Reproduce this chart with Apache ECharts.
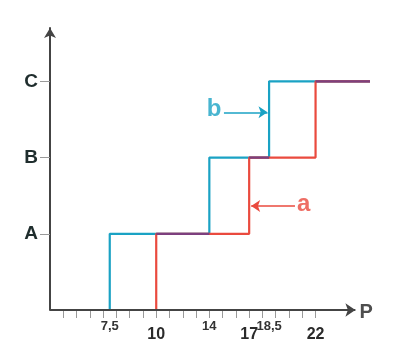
<!DOCTYPE html>
<html>
<head>
<meta charset="utf-8">
<script src="https://cdn.jsdelivr.net/npm/echarts@6/dist/echarts.min.js"></script>
<style>
html,body{margin:0;padding:0;background:#fff;}
#c{width:403px;height:358px;}
</style>
</head>
<body>
<div id="c"></div>
<script>
// ---- data ----
const yLevels = [1, 2, 3];
const yLabels = ['A', 'B', 'C'];
const bBreaks = [6.5, 14, 18.5];   // step positions of curve b (drawn position of "7,5")
const aBreaks = [10, 17, 22];      // step positions of curve a
const lineEnd = 26.1;
const xAxisEnd = 25;
const xSmallValues = [6.5, 14, 18.5];
const xSmallLabels = ['7,5', '14', '18,5'];
const xBigValues = [10, 17, 22];
const xBigLabels = ['10', '17', '22'];
const xMinorTicks = [3, 4, 5, 6, 7, 8, 9, 10, 11, 12, 13, 14, 15, 16, 17, 18, 19, 20, 21, 22];

const BLUE = '#1aa2c4';
const RED = '#ea4a3e';
const PURPLE = '#7d3f7e';
const AXIS = '#444';
const FONT = '"Liberation Sans", Arial, sans-serif';

function stepPoints(breaks) {
  const pts = [[breaks[0], 0]];
  for (let i = 0; i < breaks.length; i++) {
    pts.push([breaks[i], yLevels[i]]);
    const next = i + 1 < breaks.length ? breaks[i + 1] : lineEnd;
    pts.push([next, yLevels[i]]);
  }
  return pts;
}
function overlapSegments() {
  const segs = [];
  for (let i = 0; i < yLevels.length; i++) {
    const aEnd = i + 1 < aBreaks.length ? aBreaks[i + 1] : lineEnd;
    const bEnd = i + 1 < bBreaks.length ? bBreaks[i + 1] : lineEnd;
    const s = Math.max(aBreaks[i], bBreaks[i]);
    const e = Math.min(aEnd, bEnd);
    if (e > s) segs.push([[s, yLevels[i]], [e, yLevels[i]]]);
  }
  return segs;
}

const chart = echarts.init(document.getElementById('c'), null, {renderer: 'canvas'});
const series = [
  {
    type: 'line', name: 'b', data: stepPoints(bBreaks), symbol: 'none',
    lineStyle: {color: BLUE, width: 2.2}, z: 3,
    markLine: {
      silent: true, symbol: ['none', 'arrow'], symbolSize: [9, 9], animation: false,
      lineStyle: {color: BLUE, width: 1.6, type: 'solid'}, label: {show: false},
      data: [[{coord: [15.1, 2.594]}, {coord: [18.38, 2.594]}]]
    }
  },
  {
    type: 'line', name: 'a', data: stepPoints(aBreaks), symbol: 'none',
    lineStyle: {color: RED, width: 2.2}, z: 3,
    markLine: {
      silent: true, symbol: ['none', 'arrow'], symbolSize: [9, 9], animation: false,
      lineStyle: {color: RED, width: 1.6, type: 'solid'}, label: {show: false},
      data: [[{coord: [20.45, 1.365]}, {coord: [17.15, 1.365]}]]
    }
  }
];
overlapSegments().forEach(seg => series.push({
  type: 'line', data: seg, symbol: 'none',
  lineStyle: {color: PURPLE, width: 2.2}, z: 4
}));
series.push({
  type: 'scatter', symbolSize: 0, z: 5, clip: false,
  data: [
    {value: [14.35, 2.63], label: {formatter: 'b', color: BLUE}},
    {value: [21.1, 1.38], label: {formatter: 'a', color: RED}},
    {value: [25.82, 0], label: {formatter: 'P', color: '#222', fontSize: 20, offset: [0, 2]}}
  ],
  label: {show: true, position: 'inside', fontSize: 24, fontWeight: 'bold', fontFamily: FONT},
  markLine: {
    silent: true, symbol: ['none', 'arrow'], symbolSize: [10, 10], animation: false,
    lineStyle: {color: AXIS, width: 2, type: 'solid'}, label: {show: false},
    data: [[{coord: [2, 0]}, {coord: [xAxisEnd, 0]}]]
  }
});

chart.setOption({
  animation: false,
  grid: {left: 50, right: 33, top: 28, bottom: 48, containLabel: false},
  xAxis: [
    {
      type: 'value', min: 2, max: lineEnd,
      axisLine: {show: false},
      axisTick: {show: true, customValues: xMinorTicks, length: 8, lineStyle: {color: '#999', width: 1}},
      axisLabel: {show: true, customValues: xBigValues, margin: 17,
        formatter: v => xBigLabels[xBigValues.indexOf(v)] || '',
        fontSize: 16, fontWeight: 'bold', color: '#2a2a2a', fontFamily: FONT},
      splitLine: {show: false}
    },
    {
      type: 'value', min: 2, max: lineEnd, position: 'bottom',
      axisLine: {show: false}, axisTick: {show: false},
      axisLabel: {show: true, customValues: xSmallValues, margin: 10,
        formatter: v => xSmallLabels[xSmallValues.indexOf(v)] || '',
        fontSize: 13, fontWeight: 'bold', color: '#333', fontFamily: FONT},
      splitLine: {show: false}
    }
  ],
  yAxis: {
    type: 'value', min: 0, max: 3.7,
    axisLine: {show: true, lineStyle: {color: AXIS, width: 2}, symbol: ['none', 'arrow'], symbolSize: [9, 10]},
    axisTick: {show: true, customValues: yLevels, length: 10, lineStyle: {color: '#999', width: 1}},
    axisLabel: {show: true, customValues: yLevels, margin: 12,
      formatter: v => yLabels[yLevels.indexOf(v)] || '',
      fontSize: 19, fontWeight: 'bold', color: '#1f2d2d', fontFamily: FONT},
    splitLine: {show: false}
  },
  series: series
});
</script>
</body>
</html>
